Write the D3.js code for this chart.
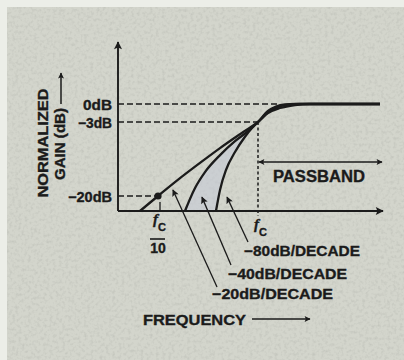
<!DOCTYPE html>
<html>
<head>
<meta charset="utf-8">
<script src="https://cdn.jsdelivr.net/npm/d3@7/dist/d3.min.js"></script>
<style>
  html, body { margin: 0; padding: 0; background: #eceee8; }
  svg { display: block; }
  text { font-family: "Liberation Sans", Arial, Helvetica, sans-serif; font-weight: bold; fill: #1b1b1b; stroke: #1b1b1b; stroke-width: 0.35px; }
</style>
</head>
<body>
<svg id="chart" width="404" height="360"></svg>
<script>
// High-pass filter responses: frequency (relative to fc) vs normalized gain (dB)
const freq20 = [0.066, 0.1, 0.166, 0.263, 0.417, 0.661, 1, 1.259, 1.66, 2.34, 3.31, 16.6];
const gain20 = [-24, -20, -15.9, -12.4, -9.0, -5.8, -3, -1.5, -0.67, -0.17, 0, 0];

const freq40 = [0.186, 0.234, 0.295, 0.417, 0.589, 0.794, 1, 1.259, 1.585, 2.09, 2.63, 16.6];
const gain40 = [-24, -18.2, -14.5, -10.6, -7.4, -5.1, -3, -1.33, -0.5, -0.08, 0, 0];

const freq80 = [0.38, 0.417, 0.479, 0.589, 0.741, 0.871, 1, 1.259, 1.514, 1.862, 2.34, 16.6];
const gain80 = [-24, -18.6, -14.0, -9.9, -6.4, -4.4, -3, -1.17, -0.42, -0.08, 0, 0];

const slopeLabels = ["\u221220dB/DECADE", "\u221240dB/DECADE", "\u221280dB/DECADE"];
const gainTicks = [0, -3, -20];
const gainTickLabels = ["0dB", "\u22123dB", "\u221220dB"];
const markFreqs = [0.1, 1];           // fc/10 and fc
const floorGain = -24;

const svg = d3.select("#chart");
const ink = "#1b1b1b";

// scales (schematic gain axis, piecewise)
const x = d3.scaleLog().domain([Math.pow(10, -1.4), Math.pow(10, 1.25)]).range([118, 383]);
const y = d3.scaleLinear().domain([floorGain, -20, -3, 0]).range([211, 196, 122, 104]);

// defs: markers, texture, shading mask
const defs = svg.append("defs");
function marker(id, w, h) {
  defs.append("marker").attr("id", id)
    .attr("viewBox", "0 0 10 10").attr("refX", 9).attr("refY", 5)
    .attr("markerUnits", "userSpaceOnUse")
    .attr("markerWidth", w).attr("markerHeight", h)
    .attr("orient", "auto-start-reverse")
    .append("path").attr("d", "M0,0 L10,5 L0,10 L2,5 z").attr("fill", ink);
}
marker("axisHead", 13, 8);
marker("smallHead", 9, 6);
marker("annHead", 10, 7);

const grain = defs.append("filter").attr("id", "grain")
  .attr("x", 0).attr("y", 0).attr("width", "100%").attr("height", "100%");
grain.append("feTurbulence").attr("type", "fractalNoise")
  .attr("baseFrequency", 0.32).attr("numOctaves", 2).attr("seed", 7);
grain.append("feColorMatrix").attr("type", "matrix")
  .attr("values", "0 0 0 0 0.35  0 0 0 0 0.36  0 0 0 0 0.33  0 0 0 -1.4 0.78");

// paper
svg.append("rect").attr("x", 7).attr("y", 7).attr("width", 397).attr("height", 353).attr("fill", "#d3d5cc");
svg.append("rect").attr("x", 7).attr("y", 7).attr("width", 397).attr("height", 353)
  .attr("filter", "url(#grain)").attr("opacity", 0.45);

const series = [
  { f: freq20, g: gain20 },
  { f: freq40, g: gain40 },
  { f: freq80, g: gain80 }
].map(s => s.f.map((f, i) => [f, s.g[i]]));

const line = d3.line().x(d => x(d[0])).y(d => y(d[1])).curve(d3.curveMonotoneX);
const area = d3.area().x(d => x(d[0])).y0(y(floorGain)).y1(d => y(d[1])).curve(d3.curveMonotoneX);

// light shading between the -40 and -80 responses
const mask = defs.append("mask").attr("id", "between");
mask.append("rect").attr("width", 404).attr("height", 360).attr("fill", "black");
mask.append("path").attr("d", area(series[1])).attr("fill", "white");
mask.append("path").attr("d", area(series[2])).attr("fill", "black");
svg.append("rect").attr("x", 118).attr("y", 100).attr("width", 200).attr("height", 111)
  .attr("fill", "#c6cbd8").attr("opacity", 0.55).attr("mask", "url(#between)");

// dashed guides
const guides = svg.append("g").attr("stroke", ink).attr("stroke-width", 1.5)
  .attr("stroke-dasharray", "6,3").attr("fill", "none");
guides.append("line").attr("x1", x.range()[0]).attr("x2", x(1.6)).attr("y1", y(0)).attr("y2", y(0));
guides.append("line").attr("x1", x.range()[0]).attr("x2", x(1)).attr("y1", y(-3)).attr("y2", y(-3));
guides.append("line").attr("x1", x.range()[0]).attr("x2", x(0.1)).attr("y1", y(-20)).attr("y2", y(-20));
guides.append("line").attr("x1", x(1)).attr("x2", x(1)).attr("y1", y(-3)).attr("y2", y(floorGain) + 5)
  .attr("stroke-dasharray", "3,2.5");

// axes
svg.append("line").attr("x1", x.range()[0]).attr("x2", x.range()[0])
  .attr("y1", y(floorGain)).attr("y2", 42)
  .attr("stroke", ink).attr("stroke-width", 1.9).attr("marker-end", "url(#axisHead)");
svg.append("line").attr("x1", x.range()[0]).attr("x2", x.range()[1])
  .attr("y1", y(floorGain)).attr("y2", y(floorGain))
  .attr("stroke", ink).attr("stroke-width", 1.9).attr("marker-end", "url(#axisHead)");

// gain tick labels
const yAxis = d3.axisLeft(y).tickValues(gainTicks).tickSize(0).tickPadding(6)
  .tickFormat((d, i) => gainTickLabels[i]);
const yg = svg.append("g").attr("transform", `translate(${x.range()[0]},0)`).call(yAxis);
yg.select(".domain").remove();
yg.selectAll("text")
  .attr("font-family", "'Liberation Sans', Arial, sans-serif").attr("font-weight", "bold")
  .attr("font-size", 14).attr("fill", ink).attr("dy", "0.36em")
  .attr("textLength", (d, i) => [29, 34, 44][i]).attr("lengthAdjust", "spacingAndGlyphs");

// tick at fc/10
svg.append("line").attr("x1", x(0.1) + 2).attr("x2", x(0.1) + 2)
  .attr("y1", y(-20) + 6).attr("y2", y(floorGain)).attr("stroke", ink).attr("stroke-width", 1.3);

// response curves
svg.append("g").selectAll("path").data(series).join("path")
  .attr("d", line).attr("fill", "none").attr("stroke", ink)
  .attr("stroke-width", 2.3).attr("stroke-linejoin", "round");

// -20dB point at fc/10
svg.append("circle").attr("cx", x(0.1)).attr("cy", y(-20)).attr("r", 3.6).attr("fill", ink);

// frequency labels fc/10 and fc
function fcLabel(cx, top) {
  const t = svg.append("text").attr("x", cx - 5).attr("y", top)
    .attr("font-size", 15).attr("font-weight", "normal");
  t.append("tspan").text("f").attr("font-style", "italic").attr("font-family", "'Liberation Serif', 'Times New Roman', serif");
  t.append("tspan").text("C").attr("font-size", 11).attr("dy", 7).attr("dx", 0);
}
fcLabel(x(markFreqs[0]), 224);
svg.append("line").attr("x1", x(markFreqs[0]) - 8).attr("x2", x(markFreqs[0]) + 7)
  .attr("y1", 239).attr("y2", 239).attr("stroke", ink).attr("stroke-width", 1.6);
svg.append("text").attr("x", x(markFreqs[0])).attr("y", 253).attr("text-anchor", "middle")
  .attr("font-size", 14).attr("font-weight", "normal").text("10");
fcLabel(x(markFreqs[1]) + 1, 229);

// passband
svg.append("line").attr("x1", x(1) + 1).attr("x2", x.range()[1] - 1).attr("y1", 162).attr("y2", 162)
  .attr("stroke", ink).attr("stroke-width", 1.4)
  .attr("marker-start", "url(#smallHead)").attr("marker-end", "url(#smallHead)");
svg.append("text").attr("x", 273).attr("y", 182).attr("font-size", 16)
  .attr("textLength", 92).attr("lengthAdjust", "spacingAndGlyphs").text("PASSBAND");

// slope annotations
const annTips = [[0.141, -18.6], [0.275, -20.3], [0.49, -20.3]];
const annText = [[212, 299, 121], [228, 279, 119], [244, 256, 116]];
const annTail = [[217, 287], [231, 265], [248, 242]];
annText.forEach((p, i) => {
  svg.append("line").attr("x1", annTail[i][0]).attr("y1", annTail[i][1])
    .attr("x2", x(annTips[i][0])).attr("y2", y(annTips[i][1]))
    .attr("stroke", ink).attr("stroke-width", 1.3).attr("marker-end", "url(#annHead)");
  svg.append("text").attr("x", p[0]).attr("y", p[1]).attr("font-size", 15)
    .attr("textLength", p[2]).attr("lengthAdjust", "spacingAndGlyphs").text(slopeLabels[i]);
});

// axis titles
svg.append("text").attr("x", 143).attr("y", 325).attr("font-size", 15)
  .attr("textLength", 103).attr("lengthAdjust", "spacingAndGlyphs").text("FREQUENCY");
svg.append("line").attr("x1", 252).attr("x2", 310).attr("y1", 319).attr("y2", 319)
  .attr("stroke", ink).attr("stroke-width", 1.5).attr("marker-end", "url(#smallHead)");

svg.append("text").attr("transform", "translate(48,143) rotate(-90)").attr("text-anchor", "middle")
  .attr("font-size", 15).attr("textLength", 109).attr("lengthAdjust", "spacingAndGlyphs").text("NORMALIZED");
svg.append("text").attr("transform", "translate(65,144) rotate(-90)").attr("text-anchor", "middle")
  .attr("font-size", 15).attr("textLength", 72).attr("lengthAdjust", "spacingAndGlyphs").text("GAIN (dB)");
svg.append("line").attr("x1", 61).attr("x2", 61).attr("y1", 104).attr("y2", 73)
  .attr("stroke", ink).attr("stroke-width", 1.5).attr("marker-end", "url(#smallHead)");
</script>
</body>
</html>
